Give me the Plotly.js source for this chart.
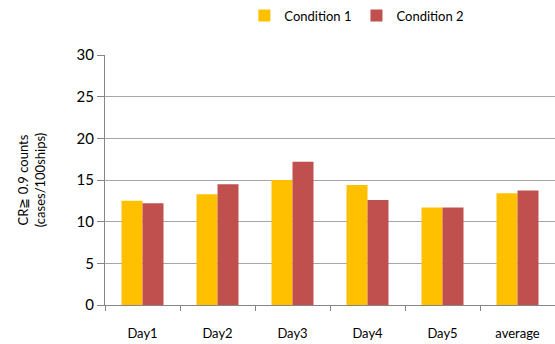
<!DOCTYPE html>
<html>
<head>
<meta charset="utf-8">
<script src="https://cdn.plot.ly/plotly-3.0.1.min.js"></script>
<style>
  html, body { margin: 0; padding: 0; background: #fff; }
  #chart { width: 555px; height: 344px; }
</style>
</head>
<body>
<div id="chart"></div>
<script>
// Categories and series values
const days = ["Day1", "Day2", "Day3", "Day4", "Day5", "average"];
const condition1 = [12.5, 13.3, 15.0, 14.4, 11.7, 13.4];
const condition2 = [12.2, 14.5, 17.2, 12.6, 11.7, 13.75];
const seriesNames = ["Condition 1", "Condition 2"];
const yTicks = [0, 5, 10, 15, 20, 25, 30];

const font = "Lato, 'Open Sans', sans-serif";

const traces = [
  { type: "bar", name: seriesNames[0], x: days, y: condition1,
    marker: { color: "#FFC000" }, hoverinfo: "x+y" },
  { type: "bar", name: seriesNames[1], x: days, y: condition2,
    marker: { color: "#C0504D" }, hoverinfo: "x+y" }
];

const layout = {
  width: 555, height: 344,
  margin: { l: 105, r: 0, t: 55, b: 39 },
  paper_bgcolor: "#fff", plot_bgcolor: "#fff",
  font: { family: font, size: 13, color: "#000" },
  barmode: "group", bargap: 0.44, bargroupgap: 0,
  showlegend: true,
  legend: {
    orientation: "h", xref: "container", yref: "container",
    x: 0.643, xanchor: "center", y: 0.955, yanchor: "middle",
    font: { family: font, size: 13, color: "#000" },
    itemwidth: 30, tracegroupgap: 0
  },
  xaxis: {
    type: "category", tickson: "boundaries",
    ticks: "outside", ticklen: 5, tickcolor: "#868686",
    showline: true, linecolor: "#868686", linewidth: 1,
    showgrid: false, ticklabelstandoff: 16,
    tickfont: { family: font, size: 13, color: "#000" }
  },
  yaxis: {
    range: [0, 30], tickvals: yTicks, ticktext: yTicks.map(String),
    ticks: "outside", ticklen: 7, tickcolor: "#868686",
    showline: true, linecolor: "#868686", linewidth: 1,
    showgrid: true, gridcolor: "#a6a6a6", gridwidth: 1,
    zeroline: false,
    tickfont: { family: font, size: 15, color: "#000" },
    title: { text: "CR≧ 0.9 counts<br>(cases/100ships)", standoff: 28,
             font: { family: font, size: 13, color: "#000" } }
  }
};

Plotly.newPlot("chart", traces, layout, { displayModeBar: false, staticPlot: true });
</script>
</body>
</html>
